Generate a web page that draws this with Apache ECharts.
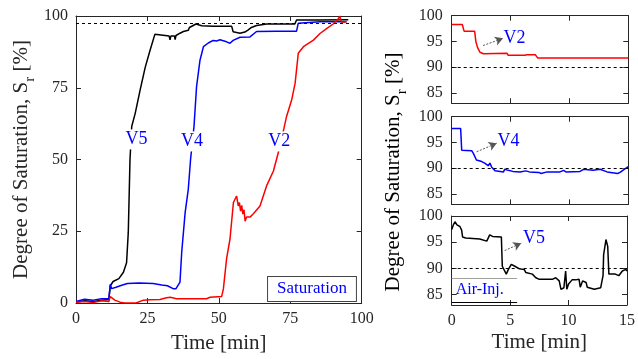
<!DOCTYPE html>
<html><head><meta charset="utf-8">
<script src="https://cdn.jsdelivr.net/npm/echarts@6/dist/echarts.min.js"></script>
<style>html,body{margin:0;padding:0;background:#fff}#c{width:638px;height:359px}</style>
</head><body><div id="c"></div>
<script>
// ---- Data ----
// Left panel: saturation during saturation stage, [time min, Sr %]
const v5Long = [[0,0.3],[3,0.8],[6,0.5],[9,1],[11.5,1.2],[12,6],[13,7.5],[15,8.5],[16.6,10.7],[17.7,14],[18.3,24.6],[18.9,50],[19.5,61.5],[20.7,66],[22.4,74],[24.2,82],[25.9,88],[27.6,93.6],[28.2,93],[32.6,93],[32.9,91.7],[33.2,93],[34.5,93],[34.7,91.8],[35,93.2],[36.4,94],[37.6,94.6],[39.3,95],[39.7,96],[42,97.2],[44,96.6],[48,96.4],[54.5,96.4],[55,94.5],[57.4,94],[59.1,94.4],[60.3,95.2],[61.4,96],[63.2,96.7],[66.7,97.2],[76.6,97.2],[77.2,98.6],[85,98.6],[94.7,98.7],[95.3,98.7]];
const v4Long = [[0,0.5],[3,1.3],[6,1],[9,1.5],[11.5,1.5],[12,6.5],[12.5,5],[14,5.5],[16,6.2],[18,6.8],[22,7],[27,6.8],[30,6.3],[32,6],[34,5],[35,5],[36.4,7.3],[37,17.7],[38.2,31.5],[39.3,39.6],[40.1,50],[41.3,61.5],[42.2,75.4],[43.4,84.6],[44.6,89.3],[46.3,90.6],[48,91.5],[49.2,91.3],[50.4,91.7],[52.7,91],[53.9,90.5],[55,91.5],[57.4,92.6],[60.9,92.7],[63.2,94.6],[70,94.7],[77.2,94.7],[77.8,97.5],[85.4,98],[94.7,98]];
const v2Long = [[0,0.3],[3,0.5],[6,0.2],[9,0.8],[11.5,0.5],[12,2.2],[13.6,1],[15.4,0.3],[17,0],[19,0],[21,0],[23.6,1],[26,1.1],[29.4,1.2],[31.7,1.8],[33,2],[35.2,1.5],[40,1.5],[45.7,1.5],[46.9,2],[51,2.3],[51.6,5],[52.7,15.4],[53.9,22.3],[55.1,35],[56.2,37.3],[56.8,33.8],[57.2,35],[57.6,32],[58,34],[58.4,31],[58.8,32.5],[59.2,28.5],[59.7,30],[61,30],[62,31],[64.4,33.8],[66.7,40.8],[69.1,46],[71.4,54.6],[73.7,65],[75.5,70.8],[76.7,76.6],[77.8,87],[79.6,89.3],[83.1,91.6],[85.4,93.9],[87.7,95.6],[90.1,97.3],[91.8,99],[92.3,100],[93,97.8],[94.7,98]];
// Right panels: during air injection, [time min, Sr %]
const v2Air = [[0,98.3],[0.9,98.3],[1.05,97],[1.95,97],[2.05,95],[2.2,93.8],[2.4,92.9],[2.7,92.6],[2.8,92.7],[4.7,92.7],[4.8,92.3],[6.2,92.3],[6.3,92.1],[6.4,92.4],[7.1,92.4],[7.3,91.8],[10.5,91.8],[10.6,91.6],[10.7,91.8],[15,91.8]];
const v4Air = [[0,97.7],[0.76,97.7],[0.85,93.5],[1.7,93.4],[1.84,92.9],[2.1,91.6],[2.55,91.3],[2.8,91],[3.1,90.5],[3.25,91],[3.4,90.2],[3.7,89.5],[4.4,89.3],[4.5,89.8],[4.8,89.6],[5.2,89.4],[5.8,89.3],[6.3,89.5],[6.4,89.8],[6.6,89.3],[7.4,89.2],[7.6,89],[8.1,89.3],[9.2,89.3],[9.5,89.6],[9.7,89.3],[10.9,89.4],[11.2,89.8],[12,89.6],[12.6,89.8],[13.2,89.3],[13.8,89.1],[14.1,89],[14.3,89.2],[14.65,89.8],[15,90.3]];
const v5Air = [[0,97.4],[0.14,98.3],[0.28,98.9],[0.45,98.3],[0.7,98],[0.85,97.3],[0.93,96],[1.2,95.8],[2.4,95.6],[3,95.2],[3.1,94.9],[3.25,96.4],[3.5,96.1],[4.25,96],[4.33,90.4],[4.5,90.1],[4.67,88.9],[4.85,89.8],[5.1,90.75],[5.4,90.4],[5.8,89.9],[6.2,89.8],[6.35,89.2],[6.9,88.9],[7.2,88.2],[7.5,87.9],[8.6,87.9],[8.9,88.2],[9.2,87.6],[9.35,86],[9.6,86.3],[9.75,89.5],[9.85,86],[10,87],[10.3,87.8],[10.6,87.8],[10.9,87.9],[11,86.4],[11.2,87.6],[11.5,87.3],[11.6,86.4],[11.75,86.4],[12.2,86],[12.75,86.3],[12.9,86],[12.95,88.6],[13,92.6],[13.2,95.5],[13.35,94.2],[13.45,88.9],[14,88.9],[14.3,88.6],[14.6,89.5],[14.9,89.8],[15,89.5]];
const fullSatLevel = 97.5;
const airThreshold = 90;
const rightYLabels = [85, 90, 95, 100];
const rightYTicks = [85, 90, 95];
const seriesNames = ['V5', 'V4', 'V2'];

// ---- Styling ----
const FONT = 'Liberation Serif';
const AX = '#262626';
const TXT = '#262626';

function xAx(grid, min, max, interval, showLabel, pos, name, gap) {
  return {
    type: 'value', gridIndex: grid, min, max, interval, position: pos,
    axisLine: {show: true, onZero: false, lineStyle: {color: AX, width: 1}},
    axisTick: {show: true, inside: true, length: 5, lineStyle: {color: AX}},
    axisLabel: {show: showLabel, fontFamily: FONT, fontSize: 16, color: TXT, margin: 8},
    splitLine: {show: false},
    name: name || '', nameLocation: 'middle', nameGap: gap || 0,
    nameTextStyle: {fontFamily: FONT, fontSize: 21, color: TXT}
  };
}
function yAx(grid, min, max, interval, showLabel, pos, extra) {
  const a = {
    type: 'value', gridIndex: grid, min, max, interval, position: pos,
    axisLine: {show: true, onZero: false, lineStyle: {color: AX, width: 1}},
    axisTick: {show: true, inside: true, length: 5, lineStyle: {color: AX}},
    axisLabel: {show: showLabel, fontFamily: FONT, fontSize: 16, color: TXT, margin: 8},
    splitLine: {show: false}
  };
  return Object.assign(a, extra || {});
}

const titleRich = {
  t: {fontFamily: FONT, fontSize: 21, color: TXT, verticalAlign: 'bottom', padding: [0, 0, 6, 0]},
  s: {fontFamily: FONT, fontSize: 15, color: TXT, verticalAlign: 'bottom'}
};
const titleText = '{t|Degree of Saturation, S}{s|r}{t| [%]}';

const xAxes = [
  xAx(0, 0, 100, 25, true, 'bottom', 'Time [min]', 30),
  xAx(0, 0, 100, 25, false, 'top'),
  xAx(1, 0, 15, 5, false, 'bottom'),
  xAx(1, 0, 15, 5, false, 'top'),
  xAx(2, 0, 15, 5, false, 'bottom'),
  xAx(2, 0, 15, 5, false, 'top'),
  xAx(3, 0, 15, 5, true, 'bottom', 'Time [min]', 27),
  xAx(3, 0, 15, 5, false, 'top')
];
const rightExtra = {axisLabel: {show: true, fontFamily: FONT, fontSize: 16, color: TXT, margin: 9, customValues: rightYLabels}, axisTick: {show: true, inside: true, length: 5, lineStyle: {color: AX}, customValues: rightYTicks}};
const rightExtraNoLab = {axisLabel: {show: false}, axisTick: {show: true, inside: true, length: 5, lineStyle: {color: AX}, customValues: rightYTicks}};
const yAxes = [
  yAx(0, 0, 100, 25, true, 'left', {name: titleText, nameLocation: 'middle', nameGap: 38, nameRotate: 90,
      nameTextStyle: {rich: titleRich}}),
  yAx(0, 0, 100, 25, false, 'right'),
  yAx(1, 83, 100, null, true, 'left', rightExtra),
  yAx(1, 83, 100, null, false, 'right', rightExtraNoLab),
  yAx(2, 83, 100, null, true, 'left', rightExtra),
  yAx(2, 83, 100, null, false, 'right', rightExtraNoLab),
  yAx(3, 83, 100, null, true, 'left', rightExtra),
  yAx(3, 83, 100, null, false, 'right', rightExtraNoLab)
];

const dashLine = (val) => ({
  silent: true, symbol: 'none', label: {show: false},
  lineStyle: {color: '#000', type: [3, 3], width: 1},
  data: [{yAxis: val}]
});
const tagLabel = (name, coord) => ({
  name, coord, value: name, symbol: 'rect', symbolSize: 0,
  label: {show: true, position: 'inside', formatter: name, fontFamily: FONT, fontSize: 18, color: '#0000ff',
          backgroundColor: '#fff', padding: [1, 1]}
});
const arrowMark = (from, to) => ({
  silent: true, animation: false,
  symbolSize: [7, 8],
  label: {show: false},
  lineStyle: {color: '#555', type: [2, 1.5], width: 1},
  data: [[{coord: from, symbol: 'none'}, {coord: to, symbol: 'arrow', itemStyle: {color: '#000'}}]]
});
const airText = (coord) => ({
  coord, symbolSize: 0, value: 'Air-Inj.',
  label: {show: true, position: 'inside', formatter: 'Air-Inj.', fontFamily: FONT, fontSize: 16, color: '#0000ff'}
});
const rightTag = (name, coord) => ({
  coord, symbolSize: 0, value: name,
  label: {show: true, position: 'right', distance: 0, formatter: name, fontFamily: FONT, fontSize: 18, color: '#0000ff'}
});

const lineSeries = (name, data, color, xi, yi, extra) => Object.assign({
  type: 'line', name, data, xAxisIndex: xi, yAxisIndex: yi, showSymbol: false, symbol: 'none',
  lineStyle: {color, width: 1.5}, itemStyle: {color}, animation: false, clip: true
}, extra || {});

const option = {
  backgroundColor: '#fff',
  animation: false,
  grid: [
    {left: 76, top: 16, width: 285.7, height: 288},
    {left: 451.7, top: 15.7, width: 176.6, height: 87.5},
    {left: 451.7, top: 116.7, width: 176.6, height: 87.7},
    {left: 451.7, top: 216, width: 176.6, height: 89}
  ],
  xAxis: xAxes,
  yAxis: yAxes,
  graphic: [{
    type: 'text', x: 396, y: 172, rotation: Math.PI / 2,
    style: {text: titleText, rich: titleRich, align: 'center', verticalAlign: 'middle'}
  }],
  series: [
    lineSeries(seriesNames[0], v5Long, '#000000', 0, 0, {
      markLine: dashLine(fullSatLevel),
      markPoint: {silent: true, data: [
        tagLabel('V5', [21.2, 57]), tagLabel('V4', [40.6, 56.3]), tagLabel('V2', [71.1, 56.3]),
        {coord: [82.6, 4.9], symbolSize: 0, value: 'Saturation',
         label: {show: true, position: 'inside', formatter: 'Saturation', fontFamily: FONT, fontSize: 17, color: '#0000ff',
                 backgroundColor: '#fff', borderColor: '#444', borderWidth: 1, padding: [4, 9, 3, 9]}}
      ]}
    }),
    lineSeries(seriesNames[1], v4Long, '#0000ff', 0, 0),
    lineSeries(seriesNames[2], v2Long, '#ff0000', 0, 0),
    lineSeries('V2 air', v2Air, '#ff0000', 2, 2, {
      markLine: dashLine(airThreshold)
    }),
    lineSeries('V2 arrow', [], '#000', 2, 2, {
      markLine: arrowMark([2.66, 94.2], [4.36, 95.6]),
      markPoint: {silent: true, data: [rightTag('V2', [4.4, 95.7])]}
    }),
    lineSeries('V4 air', v4Air, '#0000ff', 4, 4, {
      markLine: dashLine(airThreshold)
    }),
    lineSeries('V4 arrow', [], '#000', 4, 4, {
      markLine: arrowMark([2.12, 93.2], [3.82, 94.85]),
      markPoint: {silent: true, data: [rightTag('V4', [3.9, 95.2])]}
    }),
    lineSeries('V5 air', v5Air, '#000000', 6, 6, {
      markLine: {silent: true, symbol: 'none', label: {show: false}, data: [
        [{coord: [0, 88.2], lineStyle: {color: '#a0a0a0', type: 'solid', width: 1}}, {coord: [5.6, 88.2]}],
        [{coord: [0, 83.5], lineStyle: {color: '#000', type: 'solid', width: 1}}, {coord: [5.6, 83.5]}],
        [{coord: [0, airThreshold], lineStyle: {color: '#000', type: [3, 3], width: 1}}, {coord: [15, airThreshold]}]
      ]},
      markPoint: {silent: true, data: [airText([2.4, 85.9])]}
    }),
    lineSeries('V5 arrow', [], '#000', 6, 6, {
      markLine: arrowMark([4.53, 93.4], [5.95, 94.8]),
      markPoint: {silent: true, data: [rightTag('V5', [6.1, 95.8])]}
    })
  ]
};
echarts.init(document.getElementById('c'), null, {renderer: 'canvas'}).setOption(option);
</script></body></html>
